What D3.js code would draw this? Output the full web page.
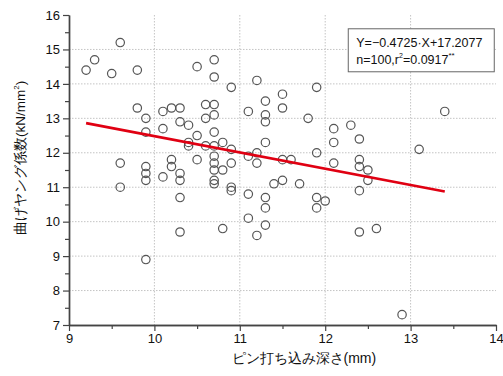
<!DOCTYPE html>
<html>
<head>
<meta charset="utf-8">
<script src="https://cdn.jsdelivr.net/npm/d3@7"></script>
<style>
  body { margin: 0; background: #fff; }
  svg { display: block; }
  text { font-family: "Liberation Sans", Arial, sans-serif; }
</style>
</head>
<body>
<svg id="chart"></svg>
<script>
// pin penetration depth (mm)
var depth = [
  9.6, 9.3, 9.2, 9.5, 9.8, 10.5, 10.7, 10.7, 10.9, 11.2,
  9.8, 9.9, 10.1, 10.2, 10.3, 10.6, 10.7, 10.6, 10.7, 11.1,
  11.3, 11.3, 11.3, 11.5, 11.5, 9.9, 10.1, 10.3, 10.4, 10.5,
  10.4, 10.4, 10.6, 10.7, 10.7, 10.8, 10.9, 10.7, 11.1, 11.2,
  11.2, 11.3, 9.6, 9.9, 9.9, 9.9, 9.6, 10.1, 10.2, 10.2,
  10.3, 10.3, 10.3, 10.3, 9.9, 10.5, 10.7, 10.7, 10.7, 10.7,
  10.8, 10.9, 10.9, 10.9, 10.8, 11.1, 11.1, 11.3, 11.3, 11.3,
  11.2, 11.4, 11.5, 11.5, 11.6, 11.7, 11.9, 11.8, 11.9, 11.9,
  11.9, 12.0, 12.1, 12.1, 12.1, 12.3, 12.4, 12.4, 12.4, 12.5,
  12.5, 12.4, 12.4, 12.6, 12.9, 13.1, 13.4
];
// bending Young's modulus (kN/mm2)
var modulus = [
  15.2, 14.7, 14.4, 14.3, 14.4, 14.5, 14.7, 14.2, 13.9, 14.1,
  13.3, 13.0, 13.2, 13.3, 13.3, 13.4, 13.4, 13.0, 13.1, 13.2,
  13.5, 13.1, 12.9, 13.7, 13.3, 12.6, 12.7, 12.9, 12.8, 12.5,
  12.3, 12.2, 12.2, 12.6, 12.2, 12.3, 12.1, 11.9, 11.9, 12.0,
  11.7, 12.3, 11.7, 11.6, 11.4, 11.2, 11.0, 11.3, 11.8, 11.6,
  11.4, 11.2, 10.7, 9.7, 8.9, 11.8, 11.7, 11.5, 11.2, 11.1,
  11.5, 11.7, 11.0, 10.9, 9.8, 10.8, 10.1, 10.7, 10.4, 9.9,
  9.6, 11.1, 11.2, 11.8, 11.8, 11.1, 13.9, 13.0, 12.0, 10.7,
  10.4, 10.6, 12.7, 12.3, 11.7, 12.8, 12.4, 11.8, 11.6, 11.5,
  11.2, 10.9, 9.7, 9.8, 7.3, 12.1, 13.2
];

var xTicks = [9, 10, 11, 12, 13, 14];
var yTicks = [7, 8, 9, 10, 11, 12, 13, 14, 15, 16];
var xMinor = [9.5, 10.5, 11.5, 12.5, 13.5];
var yMinor = [7.5, 8.5, 9.5, 10.5, 11.5, 12.5, 13.5, 14.5, 15.5];

var slope = -0.4725;
var intercept = 17.2077;
var eqText = "Y=\u22120.4725\u00B7X+17.2077";

var svgWidth = 503, svgHeight = 376;
var margin = { top: 15, right: 7, bottom: 51, left: 69 };
var w = svgWidth - margin.left - margin.right;
var h = svgHeight - margin.top - margin.bottom;

var svg = d3.select("#chart")
  .attr("width", svgWidth)
  .attr("height", svgHeight);

var g = svg.append("g")
  .attr("transform", `translate(${margin.left},${margin.top})`);

var x = d3.scaleLinear().domain([9, 14]).range([0, w]);
var y = d3.scaleLinear().domain([7, 16]).range([h, 0]);

// dotted grid
g.append("g").selectAll("line")
  .data(xTicks.slice(1, -1))
  .enter().append("line")
  .attr("x1", d => x(d)).attr("x2", d => x(d))
  .attr("y1", 0).attr("y2", h)
  .attr("stroke", "#c4c4c4").attr("stroke-dasharray", "1.5,1.5");

g.append("g").selectAll("line")
  .data(yTicks.slice(1, -1))
  .enter().append("line")
  .attr("x1", 0).attr("x2", w)
  .attr("y1", d => y(d)).attr("y2", d => y(d))
  .attr("stroke", "#c4c4c4").attr("stroke-dasharray", "1.5,1.5");

// axes
function styleAxis(sel) {
  sel.select(".domain").attr("stroke", "#444").attr("stroke-width", 1.4);
  sel.selectAll(".tick line").attr("stroke", "#444").attr("stroke-width", 1.2);
  sel.selectAll(".tick text").attr("fill", "#111").attr("font-size", 13)
    .attr("font-family", "'Liberation Sans', Arial, sans-serif");
}

g.append("g")
  .attr("transform", `translate(0,${h})`)
  .call(d3.axisBottom(x).tickValues(xMinor).tickSize(4).tickFormat("").tickSizeOuter(0))
  .call(styleAxis);
g.append("g")
  .attr("transform", `translate(0,${h})`)
  .call(d3.axisBottom(x).tickValues(xTicks).tickSize(6).tickPadding(3).tickFormat(d3.format("d")).tickSizeOuter(0))
  .call(styleAxis);

g.append("g")
  .call(d3.axisLeft(y).tickValues(yMinor).tickSize(4).tickFormat("").tickSizeOuter(0))
  .call(styleAxis);
g.append("g")
  .call(d3.axisLeft(y).tickValues(yTicks).tickSize(6).tickPadding(3).tickFormat(d3.format("d")).tickSizeOuter(0))
  .call(styleAxis);

// points
g.append("g").selectAll("circle")
  .data(depth.map((d, i) => [d, modulus[i]]))
  .enter().append("circle")
  .attr("cx", d => x(d[0]))
  .attr("cy", d => y(d[1]))
  .attr("r", 4.2)
  .attr("fill", "none")
  .attr("stroke", "#555")
  .attr("stroke-width", 1.2);

// regression line
var ext = d3.extent(depth);
g.append("line")
  .attr("x1", x(ext[0])).attr("y1", y(slope * ext[0] + intercept))
  .attr("x2", x(ext[1])).attr("y2", y(slope * ext[1] + intercept))
  .attr("stroke", "#e00012")
  .attr("stroke-width", 2.6);

// equation box
var box = g.append("g").attr("transform", `translate(${x(12.27)},${y(15.6)})`);
box.append("rect")
  .attr("width", 146).attr("height", 43)
  .attr("fill", "#fff").attr("stroke", "#666").attr("stroke-width", 1);
box.append("text")
  .attr("x", 8).attr("y", 18)
  .attr("font-size", 12.5).attr("fill", "#111")
  .text(eqText);
var t2 = box.append("text")
  .attr("x", 8).attr("y", 35)
  .attr("font-size", 12.5).attr("fill", "#111");
t2.append("tspan").text("n=100,r");
t2.append("tspan").attr("font-size", 7).attr("dy", -6).text("2");
t2.append("tspan").attr("dy", 6).text("=0.0917");
t2.append("tspan").attr("font-size", 8).attr("dy", -6).text("**");

// axis titles
svg.append("text")
  .attr("x", margin.left + x(11.75)).attr("y", 363)
  .attr("text-anchor", "middle")
  .attr("font-family", "'Noto Sans CJK JP', sans-serif")
  .attr("font-size", 14).attr("fill", "#111")
  .text("ピン打ち込み深さ(mm)");

var yt = svg.append("text")
  .attr("transform", `translate(25,${margin.top + y(11.85)}) rotate(-90)`)
  .attr("text-anchor", "middle")
  .attr("font-family", "'Noto Sans CJK JP', sans-serif")
  .attr("font-weight", 500)
  .attr("font-size", 13.5).attr("fill", "#111");
yt.append("tspan").text("曲げヤング係数(kN/mm");
yt.append("tspan").attr("font-size", 8).attr("dy", -6).text("2");
yt.append("tspan").attr("dy", 6).text(")");
</script>
</body>
</html>
